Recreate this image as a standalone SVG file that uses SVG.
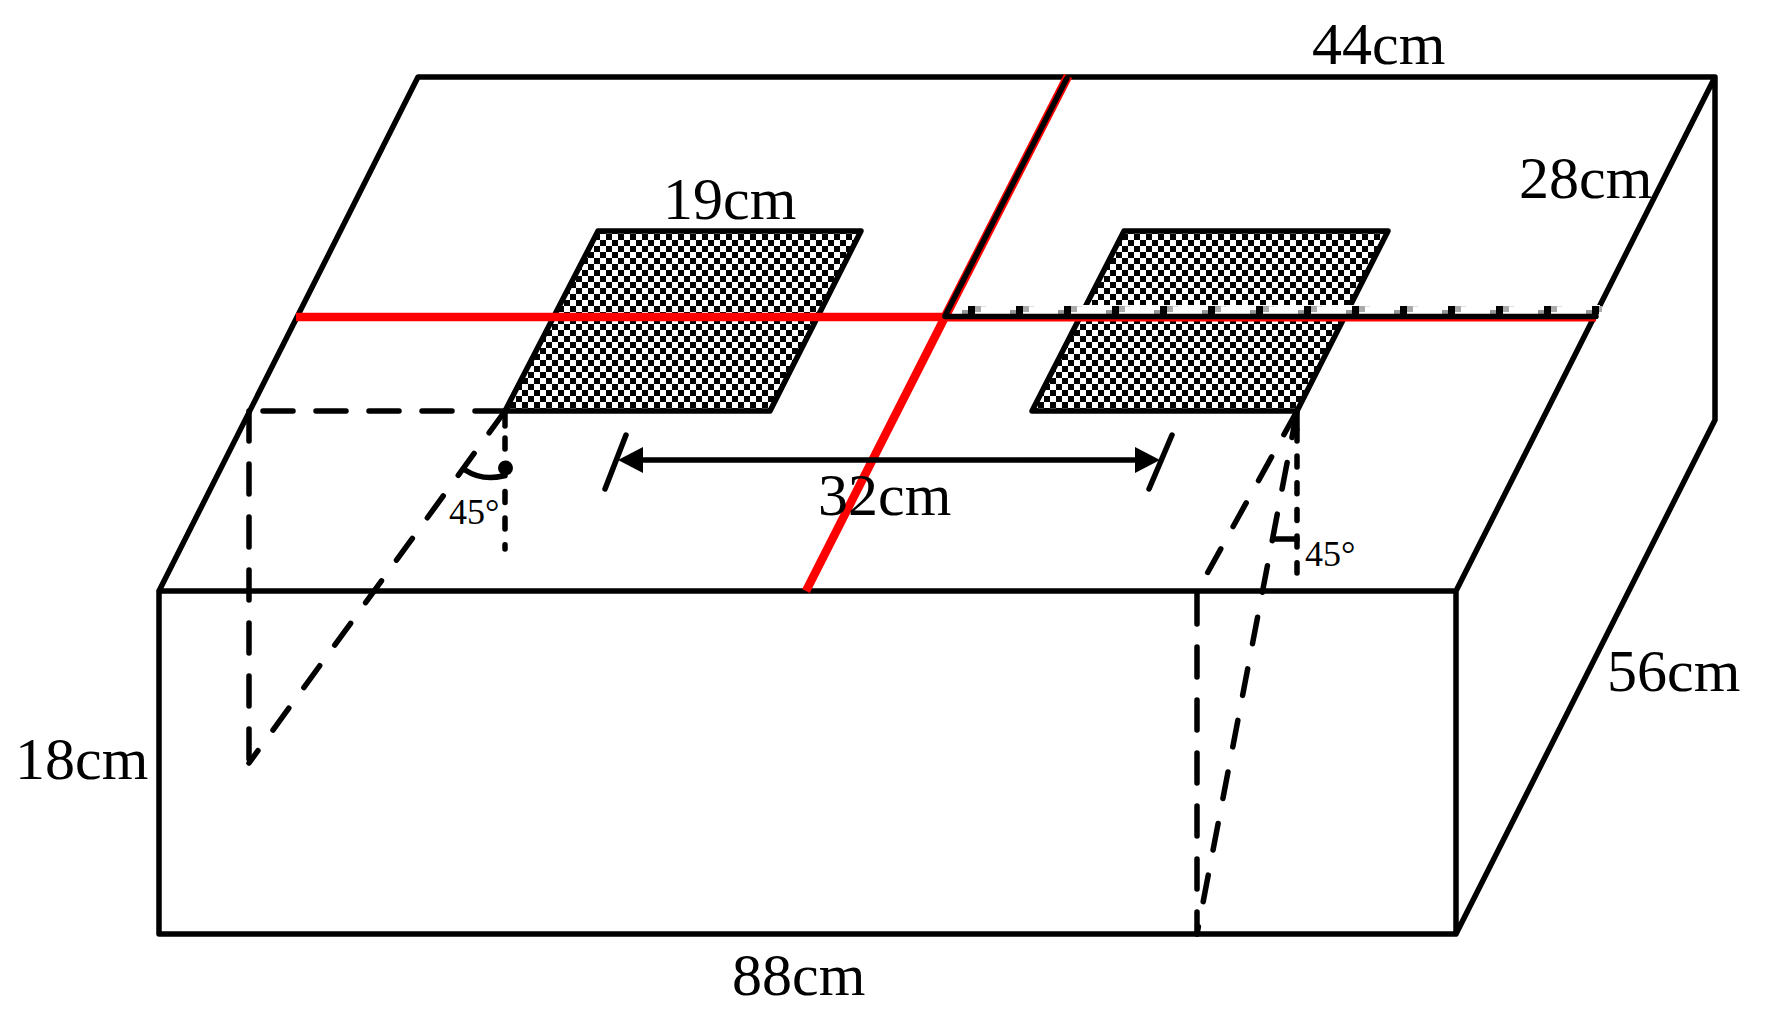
<svg xmlns="http://www.w3.org/2000/svg" width="1781" height="1030" viewBox="0 0 1781 1030">
<style>
.e{fill:none;stroke:#000;stroke-width:5.5;stroke-linecap:round;stroke-linejoin:round}
.d{stroke-dasharray:30 23}
.g{stroke-dasharray:27 25.5}
.s{stroke-dasharray:11 15.7}
.t{font-family:"Liberation Serif","Times New Roman",serif;font-size:60px;fill:#000}
.a{font-family:"Liberation Serif","Times New Roman",serif;font-size:36px;fill:#000}
</style>
<defs>
<pattern id="c" width="12" height="12" patternUnits="userSpaceOnUse">
<rect width="12" height="12" fill="#fff"/><rect width="6" height="6" fill="#000"/><rect x="6" y="6" width="6" height="6" fill="#000"/>
</pattern>
<pattern id="m" x="962" y="306" width="48" height="8" patternUnits="userSpaceOnUse">
<rect x="6" y="0" width="7" height="8" fill="#000"/><rect x="0" y="4" width="6" height="4" fill="#999"/><rect x="13" y="0" width="6" height="6" fill="#aaa"/><rect x="19" y="0" width="5" height="1" fill="#ddd"/>
</pattern>
<marker id="h" markerWidth="26" markerHeight="28" refX="0" refY="14" orient="auto-start-reverse" markerUnits="userSpaceOnUse"><path d="M0 1L25 14L0 27Z" fill="#000"/></marker>
</defs>
<rect width="1781" height="1030" fill="#fff"/>
<g id="patch-left"><path class="e" style="fill:url(#c)" d="M598 231H861L770 411H505Z"/></g>
<g id="patch-right"><path class="e" style="fill:url(#c)" d="M1124 231H1388L1297 411H1032Z"/></g>
<g id="box"><path class="e" d="M159 591H1456V934H159ZM159 591L418 77H1715L1456 591M1715 77V420L1456 934"/></g>
<g id="connectors">
<path d="M950 305H1600V314H950Z" fill="#fff"/>
<rect x="962" y="306" width="640" height="8" fill="url(#m)"/>
<path d="M296 317H945L806 591" fill="none" stroke="#f00" stroke-width="8.5"/>
<path d="M945 319.5H1596" fill="none" stroke="#f00" stroke-width="4"/>
<path d="M1068 76L945 317" fill="none" stroke="#f00" stroke-width="9"/>
<path class="e" d="M945 316.5H1596M1067 78L945 316"/>
<path class="e d" d="M505 411H249"/>
<path class="e d" d="M249 411V763"/>
<path class="e g" d="M505 411L249 763"/>
<path class="e" d="M505 411V426"/>
<path class="e s" d="M505 438V549"/>
<path class="e" d="M1297 411V429"/>
<path class="e s" d="M1297 456V573"/>
<path class="e" d="M1297 430V441"/>
<path class="e g" d="M1297 411L1203 581"/>
<path class="e d" d="M1197 594V934"/>
<path class="e g" d="M1297 411L1197 934"/>
<path class="e" d="M465 470Q482 481 503 476M1275 539H1297"/>
<circle cx="505.500" cy="468" r="7.500"/>
<path class="e" d="M626 435L605 489M1172 435L1149 489"/>
<path class="e" d="M643 460H1135" marker-start="url(#h)" marker-end="url(#h)"/>
</g>
<g id="labels">
<text class="t" x="1312" y="64">44cm</text>
<text class="t" x="1519" y="198">28cm</text>
<text class="t" x="663" y="219">19cm</text>
<text class="t" x="818" y="515">32cm</text>
<text class="t" x="1607" y="691">56cm</text>
<text class="t" x="15" y="779">18cm</text>
<text class="t" x="732" y="995">88cm</text>
<text class="a" x="449" y="524">45°</text>
<text class="a" x="1305" y="566">45°</text>
</g>
</svg>
